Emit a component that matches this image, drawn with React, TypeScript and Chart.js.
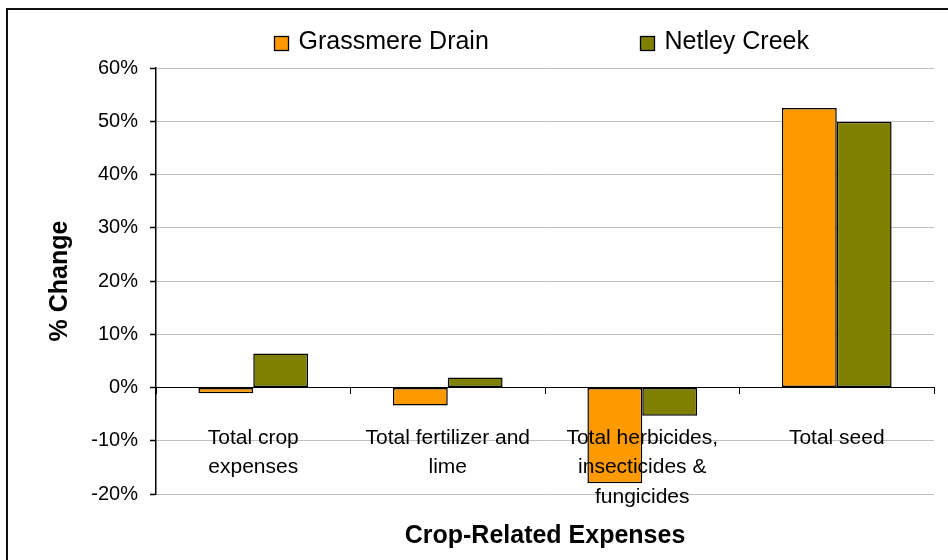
import React, { useEffect, useRef } from "react";
import { Chart, registerables } from "chart.js";

Chart.register(...registerables);

// Crop-related expense categories (multi-line labels)
const categories: string[][] = [
  ["Total crop", "expenses"],
  ["Total fertilizer and", "lime"],
  ["Total herbicides,", "insecticides &", "fungicides"],
  ["Total seed"],
];

// Percent change per watershed
const grassmereDrain = [-1.1, -3.4, -18.0, 52.5];
const netleyCreek = [6.4, 1.9, -5.3, 49.9];

const seriesNames = ["Grassmere Drain", "Netley Creek"];
const seriesColors = ["#FF9900", "#808000"];

const yMin = -20;
const yMax = 60;
const yStep = 10;

const FONT = "'Liberation Sans', Arial, Helvetica, sans-serif";

// Legend drawn as a single row with wide spacing between entries
const spacedLegend = {
  id: "spacedLegend",
  afterDraw(chart: any, _args: any, opts: any) {
    const { ctx, chartArea } = chart;
    const mid = (chartArea.left + chartArea.right) / 2;
    ctx.save();
    ctx.font = `${opts.fontSize}px ${FONT}`;
    ctx.textBaseline = "alphabetic";
    ctx.textAlign = "left";
    chart.data.datasets.forEach((ds: any, i: number) => {
      const x = Math.round(mid + opts.offsets[i]) + 0.5;
      ctx.fillStyle = ds.backgroundColor;
      ctx.fillRect(x, opts.boxTop, opts.box, opts.box);
      ctx.strokeStyle = "#000";
      ctx.lineWidth = 1.3;
      ctx.strokeRect(x, opts.boxTop, opts.box, opts.box);
      ctx.fillStyle = "#000";
      ctx.fillText(ds.label, x + opts.box + opts.gap, opts.baseline);
    });
    ctx.restore();
  },
};

export default function App() {
  const canvasRef = useRef<HTMLCanvasElement | null>(null);

  useEffect(() => {
    if (!canvasRef.current) return;
    const chart = new Chart(canvasRef.current, {
      type: "bar",
      data: {
        labels: categories,
        datasets: [
          {
            label: seriesNames[0],
            data: grassmereDrain,
            backgroundColor: seriesColors[0],
            borderColor: "#000",
            borderWidth: 1.5,
            borderSkipped: false,
            categoryPercentage: 0.564,
            barPercentage: 1,
          },
          {
            label: seriesNames[1],
            data: netleyCreek,
            backgroundColor: seriesColors[1],
            borderColor: "#000",
            borderWidth: 1.5,
            borderSkipped: false,
            categoryPercentage: 0.564,
            barPercentage: 1,
          },
        ],
      },
      options: {
        responsive: false,
        animation: false,
        events: [],
        layout: { padding: { top: 68, right: 14, bottom: 0, left: 0 } },
        plugins: {
          legend: { display: false },
          tooltip: { enabled: false },
          title: {
            display: true,
            position: "bottom",
            fullSize: false,
            text: "Crop-Related Expenses",
            color: "#000",
            font: { family: FONT, size: 25, weight: "bold", lineHeight: 1.2 },
            padding: { top: 27, bottom: 9 },
          },
          spacedLegend: {
            fontSize: 25,
            offsets: [-271, 95],
            boxTop: 36.5,
            box: 14,
            gap: 10,
            baseline: 49,
          },
        } as any,
        scales: {
          x: {
            type: "category",
            position: { y: 0 } as any,
            grid: {
              offset: true,
              drawOnChartArea: false,
              tickLength: 6,
              tickColor: "#000",
              tickWidth: 1,
              z: 1,
            },
            border: { color: "#000", width: 1, z: 1 },
            ticks: {
              z: 1,
              color: "#000",
              font: { family: FONT, size: 21, lineHeight: 1.4 },
              padding: 30,
              maxRotation: 0,
              autoSkip: false,
            },
          },
          y: {
            min: yMin,
            max: yMax,
            afterFit: (scale: any) => {
              scale.width = 156;
            },
            grid: {
              color: "#c0c0c0",
              lineWidth: 1,
              tickColor: "#000",
              tickLength: 6,
              tickWidth: 1.5,
            },
            border: { color: "#000", width: 1.5 },
            ticks: {
              stepSize: yStep,
              color: "#000",
              padding: 12,
              font: { family: FONT, size: 20 },
              callback: (v: any) => `${v}%`,
            },
            title: {
              display: true,
              text: "% Change",
              color: "#000",
              font: { family: FONT, size: 25, weight: "bold", lineHeight: 1.2 },
              padding: { top: 45, bottom: 0 },
            },
          },
        },
      },
      plugins: [spacedLegend],
    });
    return () => chart.destroy();
  }, []);

  return (
    <div
      style={{
        position: "absolute",
        left: 0,
        top: 0,
        width: 948,
        height: 560,
        overflow: "hidden",
        background: "#fff",
      }}
    >
      <canvas ref={canvasRef} width={948} height={560} style={{ display: "block" }} />
      <div
        style={{
          position: "absolute",
          left: 6,
          top: 8,
          width: 1000,
          height: 1000,
          borderLeft: "2px solid #111",
          borderTop: "2px solid #111",
          pointerEvents: "none",
        }}
      />
    </div>
  );
}
